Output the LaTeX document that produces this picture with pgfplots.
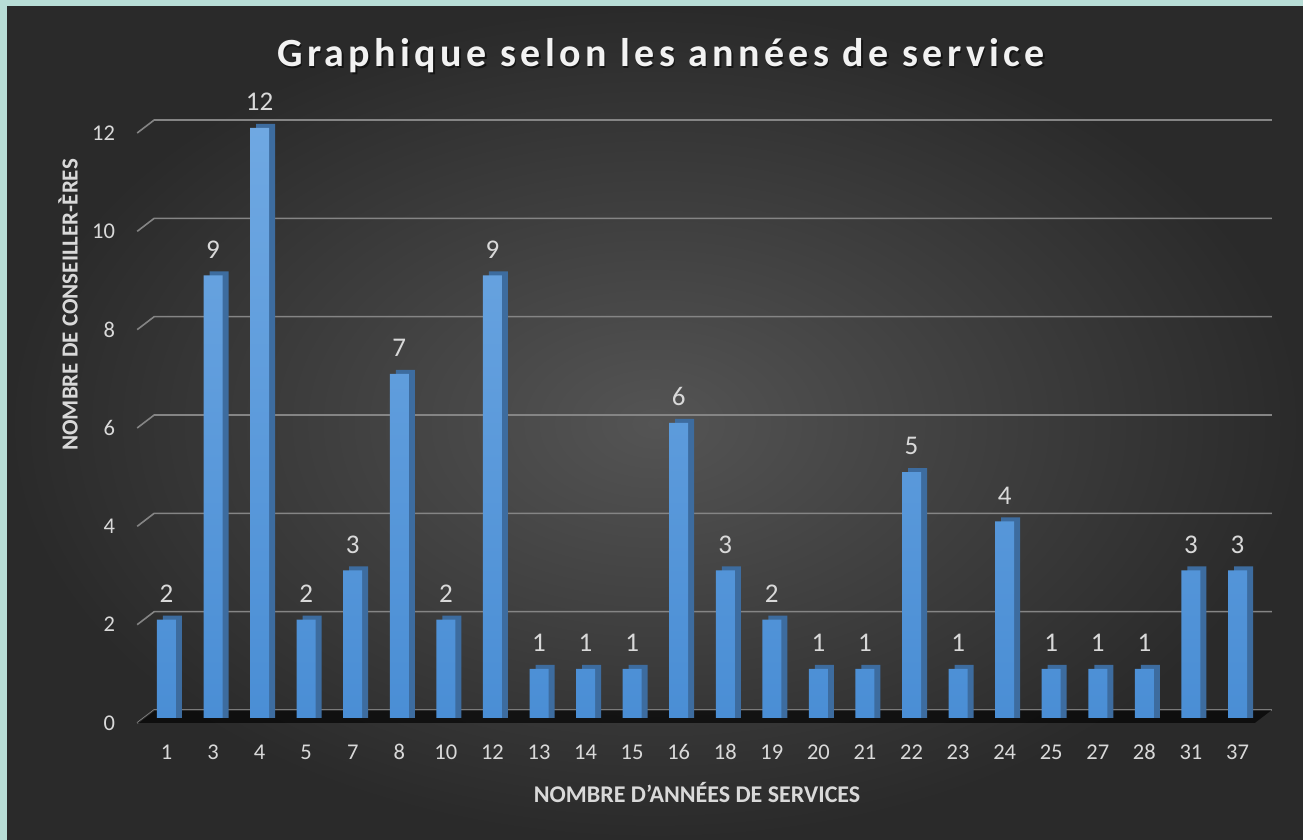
\documentclass[border=0pt]{standalone}
\usepackage{pgfplots}
\pgfplotsset{compat=1.18}
\usepackage{pgfplotstable}
\usepackage{fontspec}
\setmainfont{Carlito}
\newfontfamily\titlefont[LetterSpace=11]{Carlito}
\definecolor{bgteal}{HTML}{B8DDD6}
\definecolor{bgin}{HTML}{545454}
\definecolor{bgout}{HTML}{2A2A2A}
\definecolor{gridc}{HTML}{858585}
\definecolor{txt}{HTML}{D9D9D9}
\definecolor{bartop}{HTML}{6FA8E2}
\definecolor{barbot}{HTML}{4A8ED5}
\definecolor{barside}{HTML}{3D6C9F}
\pgfplotstableread{
x y
0 2
1 9
2 12
3 2
4 3
5 7
6 2
7 9
8 1
9 1
10 1
11 6
12 3
13 2
14 1
15 1
16 5
17 1
18 4
19 1
20 1
21 1
22 3
23 3
}\datatable
\begin{document}
\begin{tikzpicture}[x=1pt,y=1pt]
\fill[bgteal] (0,0) rectangle (1303,840);
\shade[inner color=bgin, outer color=bgout] (7,0) rectangle (1303,833);
\node[font=\titlefont\bfseries\fontsize{40}{45}\selectfont, text=black, opacity=0.5, anchor=base] at (662.5,771) {Graphique selon les années de service};
\node[font=\titlefont\bfseries\fontsize{40}{45}\selectfont, text=white!95!black, anchor=base] at (661,773) {Graphique selon les années de service};
\node[font=\bfseries\fontsize{23}{26}\selectfont, text=txt, rotate=90] at (68,535) {NOMBRE DE CONSEILLER-ÈRES};
\node[font=\bfseries\fontsize{24}{27}\selectfont, text=txt] at (697,47) {NOMBRE D'ANNÉES DE SERVICES};
\begin{axis}[
  at={(143.2pt,122pt)}, anchor=south west,
  scale only axis, width=1117.6pt, height=590pt,
  xmin=-0.5, xmax=23.5, ymin=0, ymax=12,
  clip=false,
  axis line style={draw=none},
  major tick length=0pt,
  xtick=data,
  xticklabels={1,3,4,5,7,8,10,12,13,14,15,16,18,19,20,21,22,23,24,25,27,28,31,37},
  ytick={0,2,4,6,8,10,12},
  /pgf/number format/assume math mode=true,
  xticklabel style={font=\fontsize{22.5}{25}\selectfont, text=txt, anchor=base, inner sep=0pt, yshift=-42pt},
  yticklabel style={font=\fontsize{22.5}{25}\selectfont, text=txt, anchor=east, inner sep=0pt, xshift=-28pt, yshift=-5pt},
]
\pgfplotsinvokeforeach{0,2,4,6,8,10,12}{
  \draw[gridc, line width=1.6pt] ([shift={(-6pt,-5pt)}]axis cs:-0.5,#1) -- ([shift={(11pt,8pt)}]axis cs:-0.5,#1) -- ([shift={(11pt,8pt)}]axis cs:23.5,#1);
}
\fill[black, opacity=0.65] ([shift={(-6pt,-5pt)}]axis cs:-0.5,0) -- ([shift={(11pt,8pt)}]axis cs:-0.5,0) -- ([shift={(11pt,8pt)}]axis cs:23.5,0) -- ([shift={(-6pt,-5pt)}]axis cs:23.5,0) -- cycle;
\addplot[ybar, bar width=19pt, bar shift=6pt, draw=none, fill=barside] table[x=x, y expr=\thisrow{y}+0.082] {\datatable};
\addplot[ybar, bar width=19pt, bar shift=0pt, draw=none, top color=bartop, bottom color=barbot,
  nodes near coords,
  every node near coord/.append style={font=\fontsize{27}{30}\selectfont, text=txt, anchor=south, inner sep=0pt, yshift=17pt}
] table[x=x, y=y] {\datatable};
\end{axis}
\end{tikzpicture}
\end{document}
